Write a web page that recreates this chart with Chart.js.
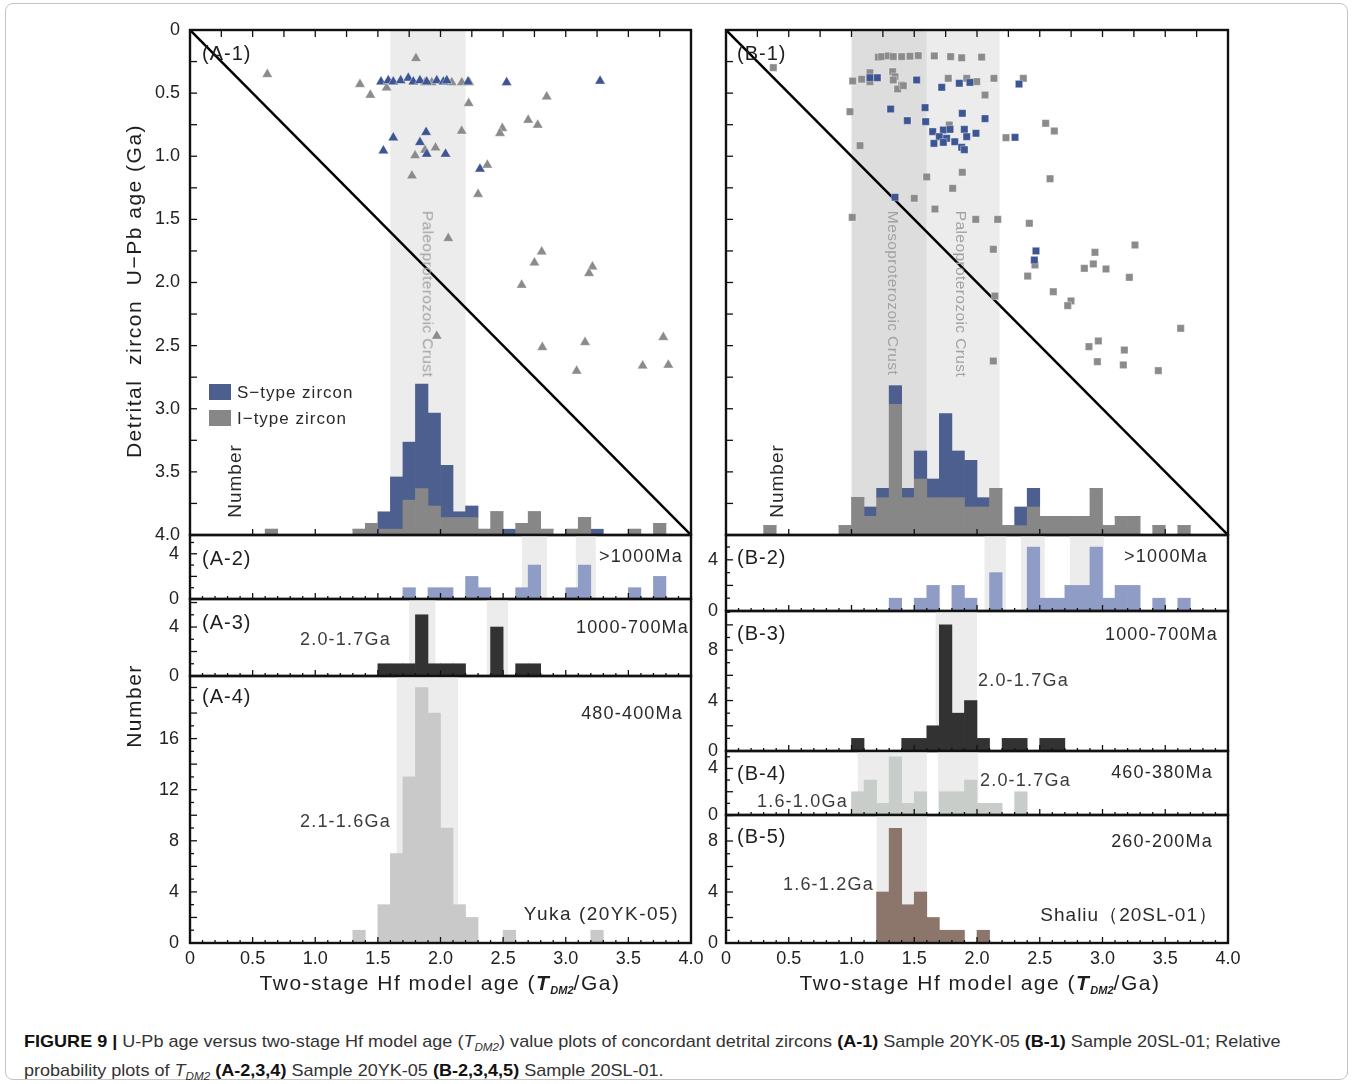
<!DOCTYPE html>
<html lang="en">
<head>
<meta charset="utf-8">
<title>Figure 9 – U-Pb age vs two-stage Hf model age</title>
<script src="https://cdn.jsdelivr.net/npm/chart.js@4.4.1/dist/chart.umd.min.js"></script>
<style>
  html, body { margin: 0; background: #fff; }
  #fig { position: relative; width: 1355px; height: 1084px; overflow: hidden;
         font-family: "Liberation Sans", Arial, sans-serif; color: #222; }
  #border { position: absolute; left: 5px; top: 3px; width: 1341px; height: 1075px;
            border: 1px solid #c4c4c4; border-radius: 8px; }
  canvas.cv { position: absolute; }
  .t { position: absolute; white-space: pre; line-height: 1; font-size: 18px; letter-spacing: 1.2px; color: #2a2a2a; }
  .l { transform: translateY(-50%); }
  .r { transform: translate(-100%, -50%); }
  .c { transform: translate(-50%, -50%); }
  .up { transform: translate(-50%, -50%) rotate(-90deg); }
  .down { transform: translate(-50%, -50%) rotate(90deg); }
  .pl { font-size: 20px; letter-spacing: 1px; color: #1e1e1e; }
  .ann { color: #3c3c3c; }
  .band { font-size: 15.5px; letter-spacing: 0.4px; color: #a2a2a2; }
  .ttl { font-size: 21px; letter-spacing: 1.5px; color: #1e1e1e; }
  .ttl b { font-style: italic; }
  .ttl sub { font-size: 11px; font-weight: bold; font-style: italic; vertical-align: -4px; letter-spacing: 0; }
  .key { position: absolute; width: 22px; height: 16px; }
  #caption { position: absolute; left: 24px; top: 1030px; font-size: 17px; line-height: 24px; color: #333;
             white-space: nowrap; transform-origin: 0 0; }
  #caption b { color: #111; }
  #caption sub { font-size: 11px; }
  .capline { display: inline-block; }
</style>
</head>
<body>
<div id="fig">
  <div id="border"></div>

  <canvas id="cA1" class="cv"></canvas>
  <canvas id="cA2" class="cv"></canvas>
  <canvas id="cA3" class="cv"></canvas>
  <canvas id="cA4" class="cv"></canvas>
  <canvas id="cB1" class="cv"></canvas>
  <canvas id="cB2" class="cv"></canvas>
  <canvas id="cB3" class="cv"></canvas>
  <canvas id="cB4" class="cv"></canvas>
  <canvas id="cB5" class="cv"></canvas>

  <!-- axis titles -->
  <div class="t up ttl" style="left:133px;top:291px">Detrital  zircon  U−Pb age (Ga)</div>
  <div class="t up ttl" style="left:133px;top:706px">Number</div>
  <div class="t c ttl" style="left:440px;top:984px">Two-stage Hf model age (<b>T</b><sub>DM2</sub>/Ga)</div>
  <div class="t c ttl" style="left:980px;top:984px">Two-stage Hf model age (<b>T</b><sub>DM2</sub>/Ga)</div>

  <!-- panel A texts -->
  <div class="t l pl" style="left:202px;top:53px">(A-1)</div>
  <div class="t down band" style="left:428px;top:294px">Paleoproterozoic Crust</div>
  <div class="key" style="left:209px;top:384px;background:#4c5f8f"></div>
  <div class="key" style="left:209px;top:410px;background:#878787"></div>
  <div class="t l" style="left:237px;top:392px;font-size:17px;letter-spacing:1px">S−type zircon</div>
  <div class="t l" style="left:237px;top:418px;font-size:17px;letter-spacing:1px">I−type zircon</div>
  <div class="t up" style="left:234px;top:481px;font-size:19px;letter-spacing:1px">Number</div>

  <div class="t l pl" style="left:202px;top:558px">(A-2)</div>
  <div class="t r" style="left:683px;top:556px">&gt;1000Ma</div>
  <div class="t l pl" style="left:202px;top:622px">(A-3)</div>
  <div class="t r" style="left:689px;top:627px">1000-700Ma</div>
  <div class="t l ann" style="left:300px;top:639px">2.0-1.7Ga</div>
  <div class="t l pl" style="left:202px;top:696px">(A-4)</div>
  <div class="t r" style="left:683px;top:713px">480-400Ma</div>
  <div class="t l ann" style="left:300px;top:821px">2.1-1.6Ga</div>
  <div class="t r" style="left:679px;top:913px;font-size:19px;letter-spacing:1.5px">Yuka (20YK-05)</div>

  <!-- panel B texts -->
  <div class="t l pl" style="left:737px;top:53px">(B-1)</div>
  <div class="t down band" style="left:893px;top:293px">Mesoproterozoic Crust</div>
  <div class="t down band" style="left:961px;top:294px">Paleoproterozoic Crust</div>
  <div class="t up" style="left:776px;top:481px;font-size:19px;letter-spacing:1px">Number</div>

  <div class="t l pl" style="left:737px;top:557px">(B-2)</div>
  <div class="t r" style="left:1208px;top:556px">&gt;1000Ma</div>
  <div class="t l pl" style="left:737px;top:633px">(B-3)</div>
  <div class="t r" style="left:1218px;top:634px">1000-700Ma</div>
  <div class="t l ann" style="left:978px;top:680px">2.0-1.7Ga</div>
  <div class="t l pl" style="left:737px;top:773px">(B-4)</div>
  <div class="t r" style="left:1213px;top:772px">460-380Ma</div>
  <div class="t l ann" style="left:980px;top:780px">2.0-1.7Ga</div>
  <div class="t l ann" style="left:757px;top:801px">1.6-1.0Ga</div>
  <div class="t l pl" style="left:737px;top:836px">(B-5)</div>
  <div class="t r" style="left:1213px;top:841px">260-200Ma</div>
  <div class="t l ann" style="left:783px;top:884px">1.6-1.2Ga</div>
  <div class="t r" style="left:1218px;top:914px;font-size:19px;letter-spacing:1px">Shaliu（20SL-01）</div>

  <div id="caption">
    <span class="capline" id="capLine1"><b>FIGURE 9 |</b> U-Pb age versus two-stage Hf model age (<i>T</i><sub><i>DM2</i></sub>) value plots of concordant detrital zircons <b>(A-1)</b> Sample 20YK-05 <b>(B-1)</b> Sample 20SL-01; Relative</span><br>
    <span class="capline">probability plots of <i>T</i><sub><i>DM2</i></sub> <b>(A-2,3,4)</b> Sample 20YK-05 <b>(B-2,3,4,5)</b> Sample 20SL-01.</span>
  </div>
</div>

<script>
/* =============================================
   Figure 9 – U-Pb age vs T_DM2 (Yuka / Shaliu)
   ============================================= */

// ----- Axis ticks -----
const xTicks   = [0, 0.5, 1, 1.5, 2, 2.5, 3, 3.5, 4];
const ageTicks = [0, 0.5, 1, 1.5, 2, 2.5, 3, 3.5, 4];
const diagonal = [[0, 0], [4, 4]];   // 1:1 line

// ----- A-1 scatter (T_DM2 Ga, U-Pb age Ga) -----
const a1SType = [[1.525,0.41],[1.583,0.40],[1.623,0.41],[1.682,0.40],[1.743,0.38],[1.783,0.41],[1.836,0.40],
  [1.89,0.41],[1.97,0.40],[2.023,0.41],[2.05,0.40],[2.22,0.41],[2.528,0.415],[3.274,0.404],[1.623,0.853],
  [1.885,0.81],[1.836,0.89],[1.544,0.956],[1.89,0.982],[2.04,0.982],[2.315,1.10]];
const a1IType = [[0.617,0.351],[1.804,0.224],[1.357,0.43],[1.44,0.515],[1.57,0.457],[1.876,0.415],[1.93,0.415],
  [2.09,0.415],[2.17,0.415],[2.23,0.415],[2.225,0.581],[2.848,0.528],[2.70,0.713],[2.776,0.752],[2.494,0.779],
  [2.475,0.818],[2.169,0.80],[1.96,0.932],[1.797,0.995],[1.876,0.95],[1.772,1.154],[2.374,1.069],[2.30,1.30],
  [2.062,1.65],[2.808,1.756],[2.75,1.843],[3.213,1.875],[3.186,1.927],[2.648,2.02],[1.97,2.424],[2.813,2.513],
  [3.154,2.474],[3.779,2.434],[3.614,2.66],[3.819,2.653],[3.087,2.70]];

// ----- A-1 histogram (bin start, counts) -----
const a1Bins  = [0.6, 1.3, 1.4, 1.5, 1.6, 1.7, 1.8, 1.9, 2.0, 2.1, 2.2, 2.3, 2.4, 2.5, 2.6, 2.7, 2.8, 3.0, 3.1, 3.2, 3.5, 3.7];
const a1HistI = [1,   1,   2,   1,   1,   6,   8,   5,   3,   3,   3,   1,   4,   0,   2,   4,   1,   1,   3,   0,   1,   2];
const a1HistS = [0,   0,   0,   3,   9,   10,  18,  16,  9,   1,   2,   0,   0,   1,   0,   0,   0,   0,   0,   1,   0,   0];

// ----- A-2 .. A-4 -----
const a2Bins   = [1.7, 1.9, 2.0, 2.2, 2.3, 2.6, 2.7, 3.0, 3.1, 3.5, 3.7];
const a2Counts = [1,   1,   1,   2,   1,   1,   3,   1,   3,   1,   2];
const a3Bins   = [1.5, 1.6, 1.7, 1.8, 1.9, 2.0, 2.1, 2.4, 2.6, 2.7];
const a3Counts = [1,   1,   1,   5,   1,   1,   1,   4,   1,   1];
const a4Bins   = [1.3, 1.5, 1.6, 1.7, 1.8, 1.9, 2.0, 2.1, 2.2, 2.5, 3.2];
const a4Counts = [1,   3,   7,   13,  20,  18,  9,   3,   2,   1,   1];

// ----- B-1 scatter -----
const b1SType = [[1.147,0.378],[1.206,0.378],[1.519,0.396],[1.719,0.454],[1.859,0.422],[1.944,0.415],[2.335,0.428],
  [1.312,0.626],[1.586,0.615],[1.445,0.718],[1.591,0.726],[1.883,0.66],[2.064,0.702],[1.647,0.805],[1.732,0.792],
  [1.785,0.787],[1.899,0.787],[1.70,0.845],[1.758,0.858],[1.823,0.885],[1.918,0.845],[1.992,0.818],[1.657,0.898],
  [1.732,0.89],[1.878,0.929],[1.899,0.948],[2.303,0.85],[1.347,1.325],[2.47,1.75],[2.457,1.822]];
const b1IType = [[0.377,0.298],[1.214,0.215],[1.24,0.211],[1.293,0.205],[1.333,0.211],[1.40,0.211],[1.466,0.208],
  [1.532,0.203],[1.66,0.205],[1.79,0.211],[1.878,0.22],[2.037,0.215],[1.01,0.404],[1.081,0.39],[1.147,0.338],
  [1.147,0.41],[1.328,0.33],[1.347,0.37],[1.333,0.396],[1.40,0.436],[1.368,0.467],[1.413,0.441],[1.771,0.383],
  [1.918,0.383],[1.998,0.409],[2.135,0.383],[2.369,0.383],[2.064,0.515],[0.988,0.647],[1.068,0.916],[1.779,0.752],
  [2.547,0.739],[2.616,0.80],[2.231,0.853],[1.599,1.164],[1.883,1.127],[2.582,1.178],[1.806,1.254],[1.50,1.333],
  [1.665,1.418],[1.006,1.484],[1.99,1.50],[2.165,1.50],[2.417,1.531],[2.13,1.737],[2.404,1.949],[2.94,1.761],
  [3.259,1.703],[2.927,1.853],[2.855,1.888],[3.028,1.893],[3.214,1.959],[2.608,2.073],[2.143,2.107],[2.749,2.146],
  [2.723,2.183],[2.462,1.861],[3.623,2.363],[2.967,2.463],[2.892,2.508],[3.174,2.535],[2.13,2.622],[2.959,2.627],
  [3.166,2.653],[3.445,2.698]];

// ----- B-1 histogram -----
const b1Bins  = [0.3, 0.9, 1.0, 1.1, 1.2, 1.3, 1.4, 1.5, 1.6, 1.7, 1.8, 1.9, 2.0, 2.1, 2.2, 2.3, 2.4, 2.5, 2.6, 2.7, 2.8, 2.9, 3.0, 3.1, 3.2, 3.4, 3.6];
const b1HistI = [1,   1,   4,   2,   4,   14,  4,   6,   4,   4,   4,   3,   3,   5,   1,   1,   3,   2,   2,   2,   2,   5,   1,   2,   2,   1,   1];
const b1HistS = [0,   0,   0,   1,   1,   2,   1,   3,   2,   9,   5,   5,   1,   0,   0,   2,   2,   0,   0,   0,   0,   0,   0,   0,   0,   0,   0];

// ----- B-2 .. B-5 -----
const b2Bins   = [1.3, 1.5, 1.6, 1.8, 1.9, 2.1, 2.4, 2.5, 2.6, 2.7, 2.8, 2.9, 3.0, 3.1, 3.2, 3.4, 3.6];
const b2Counts = [1,   1,   2,   2,   1,   3,   5,   1,   1,   2,   2,   5,   1,   2,   2,   1,   1];
const b3Bins   = [1.0, 1.4, 1.5, 1.6, 1.7, 1.8, 1.9, 2.0, 2.2, 2.3, 2.5, 2.6];
const b3Counts = [1,   1,   1,   2,   10,  3,   4,   1,   1,   1,   1,   1];
const b4Bins   = [1.0, 1.1, 1.2, 1.3, 1.4, 1.5, 1.7, 1.8, 1.9, 2.0, 2.1, 2.3];
const b4Counts = [2,   3,   1,   5,   1,   2,   2,   2,   3,   1,   1,   2];
const b5Bins   = [1.2, 1.3, 1.4, 1.5, 1.6, 1.7, 1.8, 2.0];
const b5Counts = [4,   9,   3,   4,   2,   1,   1,   1];

// ----- Styling -----
const col = {
  sMark: '#3d5592', iMark: '#8b8b8b', sBar: '#4c5f8f', iBar: '#878787',
  band: '#ececec', bandDark: '#dddddd',
  old: '#8f9dc6', dark: '#323232', pale: '#c9c9c9', green: '#c8cdca', brown: '#8c766b',
};
const BIN = 0.1;
const PAD = 14;   // canvas margin round each plot area

Chart.defaults.font.family = '"Liberation Sans", Arial, sans-serif';
Chart.defaults.color = '#222';

const fmtGa = v => (v === 0 ? '0' : v.toFixed(1));
const toPts  = arr => arr.map(([x, y]) => ({ x, y }));
const toBars = (bins, counts) => bins.map((b, i) => ({ x: b + BIN / 2, y: counts[i] }));

function histSet(bins, counts, color, extra = {}) {
  return Object.assign({
    type: 'bar', data: toBars(bins, counts), backgroundColor: color,
    borderWidth: 0, barPercentage: 1, categoryPercentage: 1,
  }, extra);
}
function markSet(pts, style, color, r) {
  return {
    type: 'scatter', data: toPts(pts), pointStyle: style, pointRadius: r,
    backgroundColor: color, borderColor: 'rgba(255,255,255,0.6)', borderWidth: 0.6,
  };
}
const diagSet = () => ({
  type: 'line', data: toPts(diagonal), borderColor: '#000', borderWidth: 2.5, pointRadius: 0, fill: false,
});

const isMult = (v, step) => Math.abs(v / step - Math.round(v / step)) < 1e-6;

// ----- Frame, shaded bands, inward ticks -----
const panelDeco = {
  id: 'panelDeco',
  beforeDatasetsDraw(chart, _a, o) {
    const { ctx, chartArea: ar, scales: { x } } = chart;
    ctx.save();
    (o.bands || []).forEach(([from, to, c]) => {
      const x0 = x.getPixelForValue(from), x1 = x.getPixelForValue(to);
      ctx.fillStyle = c || col.band;
      ctx.fillRect(x0, ar.top, x1 - x0, ar.bottom - ar.top);
    });
    ctx.restore();
  },
  afterDraw(chart, _a, o) {
    const { ctx, chartArea: ar, scales: { x, y } } = chart;
    ctx.save();
    ctx.strokeStyle = '#111';
    ctx.lineWidth = 1.3;
    const seg = (x0, y0, x1, y1) => { ctx.beginPath(); ctx.moveTo(x0, y0); ctx.lineTo(x1, y1); ctx.stroke(); };
    for (let k = 0; k * o.xMinor <= 4 + 1e-9; k++) {
      const v = k * o.xMinor, px = x.getPixelForValue(v);
      seg(px, ar.bottom, px, ar.bottom - (isMult(v, 0.5) ? 6 : 3));
    }
    if (o.top) {
      for (let k = 0; k * 0.25 <= 4 + 1e-9; k++) {
        const px = x.getPixelForValue(k * 0.25);
        seg(px, ar.top, px, ar.top + 7);
      }
    }
    for (let k = 0; k * o.yMinor <= y.max + 1e-9; k++) {
      const v = k * o.yMinor, py = y.getPixelForValue(v);
      seg(ar.left, py, ar.left + (isMult(v, o.yMajor) ? 7 : 4), py);
    }
    ctx.lineWidth = 2.4;
    ctx.strokeRect(ar.left, ar.top, ar.right - ar.left, ar.bottom - ar.top);
    ctx.restore();
  },
};

// ----- Panel builder: box = [left, right, top, bottom] of the plot area -----
function buildPanel(id, box, datasets, o) {
  const [l, r, t, b] = box;
  const xh = o.xLabels ? 34 : 0;
  const cv = document.getElementById(id);
  const w = r - l + 60 + PAD, h = b - t + 2 * PAD + xh;
  cv.width = w; cv.height = h;
  cv.style.cssText = `left:${l - 60}px;top:${t - PAD}px;width:${w}px;height:${h}px`;

  const scales = {
    x: {
      type: 'linear', min: 0, max: 4, offset: false, stacked: true, display: !!o.xLabels,
      grid: { display: false, drawTicks: false }, border: { display: false },
      ticks: { font: { size: 18 }, padding: 5, maxRotation: 0, autoSkip: false, callback: fmtGa },
      afterBuildTicks: s => { s.ticks = xTicks.map(v => ({ value: v })); },
      afterFit: s => { s.height = xh; s.paddingLeft = 0; s.paddingRight = 0; },
    },
    y: {
      type: 'linear', min: 0, max: o.yMax, reverse: !!o.reverse,
      grid: { display: false, drawTicks: false }, border: { display: false },
      ticks: { font: { size: 18 }, padding: o.yPad, autoSkip: false, callback: o.yFmt || (v => String(v)) },
      afterBuildTicks: s => { s.ticks = o.yTicks.map(v => ({ value: v })); },
      afterFit: s => { s.width = 60; s.paddingTop = 0; s.paddingBottom = 0; },
    },
  };
  if (o.histMax) scales.y2 = { type: 'linear', display: false, min: 0, max: o.histMax, stacked: true };

  return new Chart(cv, {
    type: o.type || 'bar',
    data: { datasets },
    options: {
      responsive: false, animation: false, events: [],
      layout: { autoPadding: false, padding: { left: 0, right: PAD, top: PAD, bottom: PAD } },
      plugins: { legend: { display: false }, tooltip: { enabled: false }, panelDeco: o.deco },
      scales,
    },
    plugins: [panelDeco],
  });
}

const smallDeco = (bands, yMajor = 2) => ({ bands, xMinor: 0.1, yMinor: 1, yMajor });

// ----- Column A: Yuka (20YK-05) -----
buildPanel('cA1', [190, 691, 30, 535], [
  markSet(a1SType, 'triangle', col.sMark, 6),
  markSet(a1IType, 'triangle', col.iMark, 6),
  diagSet(),
  histSet(a1Bins, a1HistI, col.iBar, { yAxisID: 'y2', stack: 'h' }),
  histSet(a1Bins, a1HistS, col.sBar, { yAxisID: 'y2', stack: 'h' }),
], { type: 'scatter', yMax: 4, reverse: true, yTicks: ageTicks, yFmt: fmtGa, yPad: 10, histMax: 87,
     deco: { bands: [[1.6, 2.2, col.band]], top: true, xMinor: 0.5, yMinor: 0.25, yMajor: 0.25 } });

buildPanel('cA2', [190, 691, 535, 599], [histSet(a2Bins, a2Counts, col.old)],
  { yMax: 5.66, yTicks: [0, 4], yPad: 11, deco: smallDeco([[2.65, 2.85], [3.08, 3.24]]) });
buildPanel('cA3', [190, 691, 599, 676], [histSet(a3Bins, a3Counts, col.dark)],
  { yMax: 6.29, yTicks: [0, 4], yPad: 11, deco: smallDeco([[1.75, 1.96], [2.37, 2.54]]) });
buildPanel('cA4', [190, 691, 676, 943], [histSet(a4Bins, a4Counts, col.pale)],
  { yMax: 20.9, yTicks: [0, 4, 8, 12, 16], yPad: 11, xLabels: true, deco: smallDeco([[1.65, 2.14]]) });

// ----- Column B: Shaliu (20SL-01) -----
buildPanel('cB1', [726, 1228, 30, 535], [
  markSet(b1SType, 'rect', col.sMark, 5.2),
  markSet(b1IType, 'rect', col.iMark, 5.2),
  diagSet(),
  histSet(b1Bins, b1HistI, col.iBar, { yAxisID: 'y2', stack: 'h' }),
  histSet(b1Bins, b1HistS, col.sBar, { yAxisID: 'y2', stack: 'h' }),
], { type: 'scatter', yMax: 4, reverse: true, yTicks: ageTicks, yFmt: () => '', yPad: 8, histMax: 54.1,
     deco: { bands: [[1.0, 1.6, col.bandDark], [1.6, 2.18, col.band]], top: true, xMinor: 0.5, yMinor: 0.25, yMajor: 0.25 } });

buildPanel('cB2', [726, 1228, 535, 611], [histSet(b2Bins, b2Counts, col.old)],
  { yMax: 5.94, yTicks: [0, 4], yPad: 8, deco: smallDeco([[2.06, 2.23], [2.35, 2.54], [2.74, 3.01]]) });
buildPanel('cB3', [726, 1228, 611, 751], [histSet(b3Bins, b3Counts, col.dark)],
  { yMax: 11.1, yTicks: [0, 4, 8], yPad: 8, deco: smallDeco([[1.67, 2.0]]) });
buildPanel('cB4', [726, 1228, 751, 815], [histSet(b4Bins, b4Counts, col.green)],
  { yMax: 5.5, yTicks: [0, 4], yPad: 8, deco: smallDeco([[1.05, 1.6], [1.69, 2.01]]) });
buildPanel('cB5', [726, 1228, 815, 943], [histSet(b5Bins, b5Counts, col.brown)],
  { yMax: 10.04, yTicks: [0, 4, 8], yPad: 8, xLabels: true, deco: smallDeco([[1.2, 1.6]]) });

// ----- Caption: squeeze to the narrow journal face -----
(function fitCaption() {
  const cap = document.getElementById('caption');
  const k = 1257 / document.getElementById('capLine1').offsetWidth;
  cap.style.transform = `scaleX(${k})`;
})();
</script>
</body>
</html>
